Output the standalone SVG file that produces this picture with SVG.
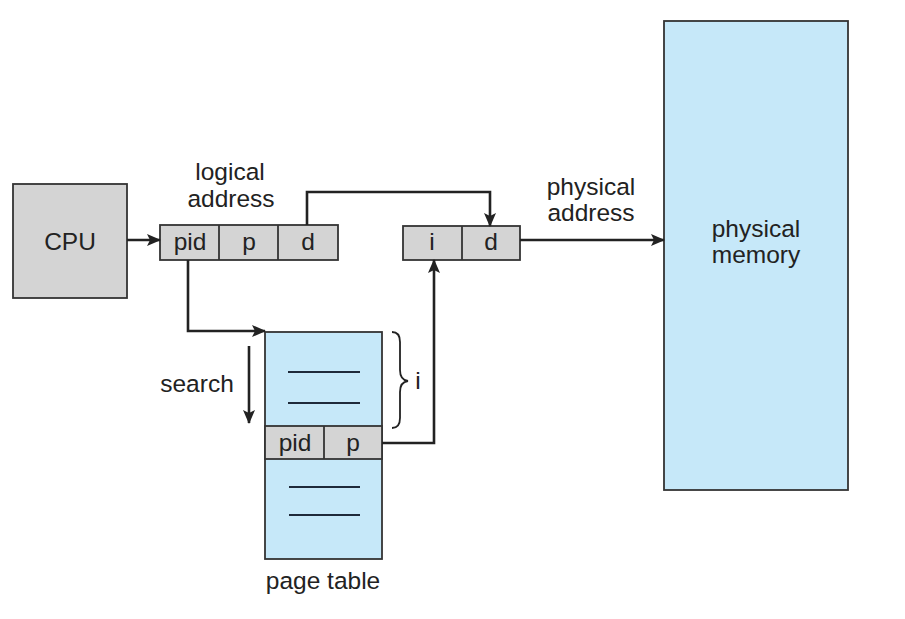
<svg xmlns="http://www.w3.org/2000/svg" width="905" height="619" viewBox="0 0 905 619">
<defs>
<marker id="ah" markerUnits="userSpaceOnUse" markerWidth="14" markerHeight="12" refX="13" refY="6" orient="auto">
<path d="M0,0 L14,6 L0,12 L3,6 Z" fill="#222"/>
</marker>
</defs>
<style>
.t{font-family:"Liberation Sans",Arial,sans-serif;font-size:24.5px;fill:#222;text-anchor:middle}
.g{fill:#d4d4d4;stroke:#333;stroke-width:1.8}
.b{fill:#c6e8f9;stroke:#333;stroke-width:1.8}
.c{fill:none;stroke:#222;stroke-width:2.6}
.ln{stroke:#1e2a3a;stroke-width:2}
</style>
<rect width="905" height="619" fill="#fff"/>
<g id="cpu">
<rect class="g" x="13" y="184" width="114" height="114"/>
<text class="t" x="70" y="250">CPU</text>
</g>
<g id="logical-address">
<rect class="g" x="160" y="225" width="178" height="35"/>
<line x1="219" y1="225" x2="219" y2="260" stroke="#333" stroke-width="1.8"/>
<line x1="278" y1="225" x2="278" y2="260" stroke="#333" stroke-width="1.8"/>
<text class="t" x="190" y="250">pid</text>
<text class="t" x="249" y="250">p</text>
<text class="t" x="308" y="250">d</text>
<text class="t" x="230" y="180">logical</text>
<text class="t" x="231" y="207">address</text>
</g>
<g id="physical-address">
<rect class="g" x="403" y="226" width="117" height="34"/>
<line x1="462" y1="226" x2="462" y2="260" stroke="#333" stroke-width="1.8"/>
<text class="t" x="432" y="250">i</text>
<text class="t" x="491" y="250">d</text>
<text class="t" x="591" y="195">physical</text>
<text class="t" x="591" y="221">address</text>
</g>
<g id="physical-memory">
<rect class="b" x="664" y="21" width="184" height="469" stroke="#222" stroke-width="2.2"/>
<text class="t" x="756" y="237">physical</text>
<text class="t" x="756" y="263">memory</text>
</g>
<g id="page-table">
<rect class="b" x="265" y="332" width="117" height="227"/>
<rect class="g" x="265" y="426" width="117" height="33"/>
<line x1="324" y1="426" x2="324" y2="459" stroke="#333" stroke-width="1.8"/>
<text class="t" x="295" y="451">pid</text>
<text class="t" x="353" y="451">p</text>
<line class="ln" x1="288" y1="372" x2="360" y2="372"/>
<line class="ln" x1="288" y1="403" x2="360" y2="403"/>
<line class="ln" x1="289" y1="487" x2="360" y2="487"/>
<line class="ln" x1="289" y1="515" x2="360" y2="515"/>
<text class="t" x="323" y="589">page table</text>
<path d="M392,332 Q400,332 400,342 L400,370 Q400,380 408,381 Q400,382 400,392 L400,418 Q400,428 392,428" fill="none" stroke="#222" stroke-width="1.8"/>
<text class="t" x="418" y="389">i</text>
<text class="t" x="197" y="392">search</text>
</g>
<g id="connectors">
<line class="c" x1="127" y1="240" x2="160" y2="240" marker-end="url(#ah)"/>
<polyline class="c" points="307,225 307,192 490,192 490,226" marker-end="url(#ah)"/>
<line class="c" x1="520" y1="240" x2="664" y2="240" marker-end="url(#ah)"/>
<polyline class="c" points="188,260 188,331 265,331" marker-end="url(#ah)"/>
<line class="c" x1="249" y1="346" x2="249" y2="423" marker-end="url(#ah)"/>
<polyline class="c" points="382,443 434,443 434,260" marker-end="url(#ah)"/>
</g>
</svg>
